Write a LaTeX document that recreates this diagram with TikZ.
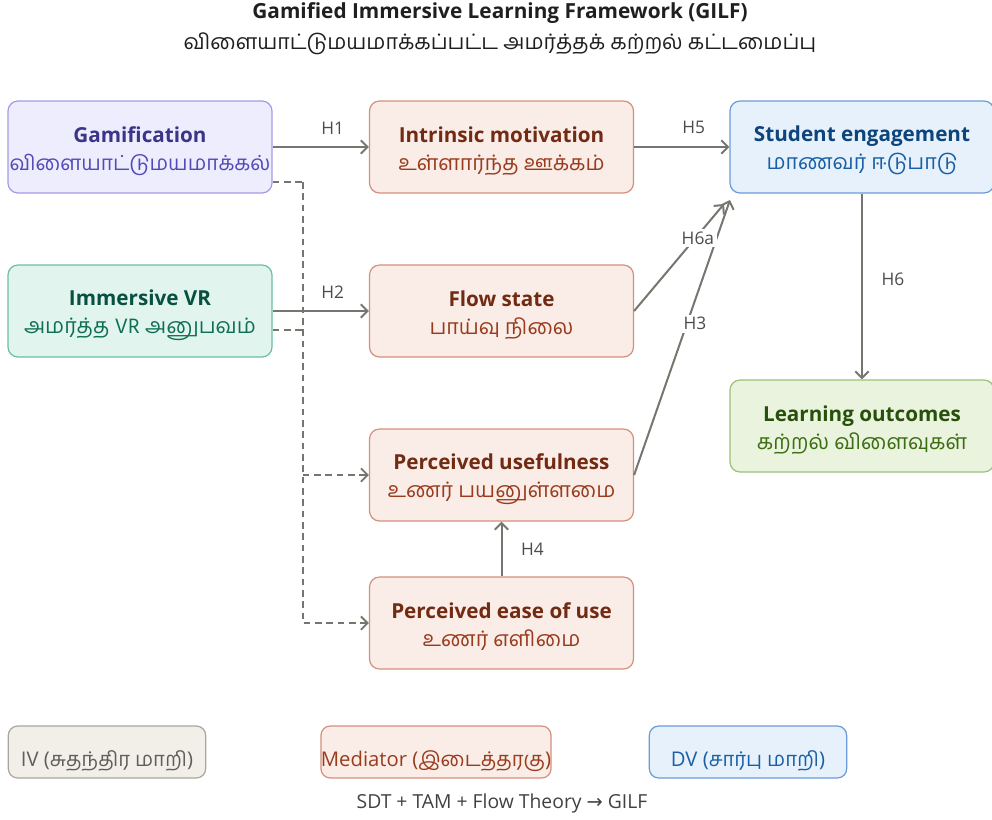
\documentclass[tikz,border=0pt]{standalone}
\usepackage{fontspec}
\usepackage{xcolor}
\usetikzlibrary{positioning, arrows.meta, calc}
\setmainfont{Open Sans}
\newfontfamily\tamilfont[Script=Tamil]{Hind Madurai}
\newfontfamily\symfont{DejaVu Sans}

% box palette: fill / border / heading / second line
\definecolor{ivfill}{HTML}{EEEDFE}\definecolor{ivline}{HTML}{A39BE6}
\definecolor{ivhead}{HTML}{3C3489}\definecolor{ivsub}{HTML}{534AB7}
\definecolor{vrfill}{HTML}{E1F5EE}\definecolor{vrline}{HTML}{6BBF9F}
\definecolor{vrhead}{HTML}{085041}\definecolor{vrsub}{HTML}{0F6E56}
\definecolor{medfill}{HTML}{FAECE7}\definecolor{medline}{HTML}{D4907A}
\definecolor{medhead}{HTML}{712B13}\definecolor{medsub}{HTML}{993C1D}
\definecolor{dvfill}{HTML}{E6F1FB}\definecolor{dvline}{HTML}{6A9BD8}
\definecolor{dvhead}{HTML}{0C447C}\definecolor{dvsub}{HTML}{185FA5}
\definecolor{outfill}{HTML}{EAF3DE}\definecolor{outline}{HTML}{9DBF7A}
\definecolor{outhead}{HTML}{27500A}\definecolor{outsub}{HTML}{3B6D11}
\definecolor{keyfill}{HTML}{F1EFE8}\definecolor{keyline}{HTML}{A8A69E}
\definecolor{keytext}{HTML}{5F5E5A}
\definecolor{wire}{HTML}{76756F}
\definecolor{ink}{HTML}{1F1F1F}

% heading on top, Tamil line below
\newcommand{\duo}[4][16]{{\fontsize{15.5}{19}\selectfont\bfseries\rule{0pt}{17.5pt}#2}\\[4pt]%
  {\fontsize{#1}{19}\selectfont\tamilfont\color{#3}#4}}
% key text sits a little low in its box
\newcommand{\keytxt}[1]{\raisebox{-11pt}[0pt][0pt]{#1}}

\begin{document}
\begin{tikzpicture}[x=0.75pt, y=-0.75pt,
  every node/.style={font=\fontsize{13}{17}\selectfont, align=center},
  box/.style={rounded corners=7.5pt, line width=0.9pt,
              minimum width=198pt, minimum height=69pt, inner sep=0pt},
  ivbox/.style={box, draw=ivline, fill=ivfill, text=ivhead},
  vrbox/.style={box, draw=vrline, fill=vrfill, text=vrhead},
  medbox/.style={box, draw=medline, fill=medfill, text=medhead},
  dvbox/.style={box, draw=dvline, fill=dvfill, text=dvhead},
  outbox/.style={box, draw=outline, fill=outfill, text=outhead},
  keybox/.style={rounded corners=7pt, line width=0.9pt, inner sep=0pt,
                 minimum height=39pt, font=\fontsize{15.2}{18}\selectfont},
  hyp/.style={draw=wire, line width=1.5pt,
              -{Straight Barb[length=5pt, width=10pt]}},
  dsh/.style={draw=wire, line width=1.4pt, dash pattern=on 5pt off 3.5pt},
  lbl/.style={font=\fontsize{13}{15}\selectfont, text=ink!80, fill=white,
              inner sep=2pt}]
\useasboundingbox (0,0) rectangle (992,819);

% title
\node[font=\fontsize{15.6}{18}\selectfont\bfseries, text=ink] (title) at (500,13)
  {Gamified Immersive Learning Framework (GILF)};
\node[font=\fontsize{16}{19}\selectfont\tamilfont, text=ink] (subtitle) at (500,44)
  {விளையாட்டுமயமாக்கப்பட்ட அமர்த்தக் கற்றல் கட்டமைப்பு};

% independent variables
\node[ivbox] (gam) at (140,147) {\duo[15.6]{Gamification}{ivsub}{விளையாட்டுமயமாக்கல்}};
\node[vrbox] (vr) at (140,311) {\duo{Immersive VR}{vrsub}{அமர்த்த VR அனுபவம்}};

% mediators
\node[medbox] (im) at (501.5,147) {\duo{Intrinsic motivation}{medsub}{உள்ளார்ந்த ஊக்கம்}};
\node[medbox] (fs) at (501.5,311) {\duo{Flow state}{medsub}{பாய்வு நிலை}};
\node[medbox] (pu) at (501.5,475) {\duo{Perceived usefulness}{medsub}{உணர் பயனுள்ளமை}};
\node[medbox] (peou) at (501.5,623) {\duo{Perceived ease of use}{medsub}{உணர் எளிமை}};

% outcomes
\node[dvbox] (se) at (862,147) {\duo{Student engagement}{dvsub}{மாணவர் ஈடுபாடு}};
\node[outbox] (lo) at (862,426) {\duo{Learning outcomes}{outsub}{கற்றல் விளைவுகள்}};

% hypotheses
\draw[hyp] (gam.east) -- node[lbl, above=7pt, xshift=9pt] {H1} (im.west);
\draw[hyp] (vr.east) -- node[lbl, above=7pt, xshift=9pt] {H2} (fs.west);
\draw[hyp] (im.east) -- node[lbl, above=7pt, xshift=9pt] {H5} (se.west);
\draw[hyp] (se.south) -- node[lbl, pos=0.46, right=12pt] {H6} (lo.north);
\draw[hyp] (peou.north) -- node[lbl, right=12pt] {H4} (pu.south);
\coordinate (tipa) at (724,204);
\coordinate (tipb) at (730,200);
\draw[hyp] (pu.east) -- node[lbl, pos=0.55, xshift=6pt] {H3} (tipb);
\draw[hyp] (fs.east) -- node[lbl, pos=0.68, xshift=2pt] {H6a} (tipa);

% indirect links (dashed)
\draw[dsh] ([shift={(0,35)}]gam.east) -- ++(30,0) coordinate (bus);
\draw[dsh, -{Straight Barb[length=5pt, width=10pt]}] (bus) |- (peou.west);
\draw[dsh] ([shift={(0,19)}]vr.east) -- ++(30,0);
\draw[dsh, -{Straight Barb[length=5pt, width=10pt]}] (bus |- pu.west) -- (pu.west);

% key
\node[keybox, draw=keyline, fill=keyfill, text=keytext, minimum width=148pt] (keyiv) at (107,752)
  {\keytxt{IV ({\tamilfont சுதந்திர மாறி})}};
\node[keybox, draw=medline, fill=medfill, text=medsub, minimum width=172pt] (keymed) at (436,752)
  {\keytxt{Mediator ({\tamilfont இடைத்தரகு})}};
\node[keybox, draw=dvline, fill=dvfill, text=dvsub, minimum width=148pt] (keydv) at (748,752)
  {\keytxt{DV ({\tamilfont சார்பு மாறி})}};
\node[font=\fontsize{14.5}{17}\selectfont, text=ink!85] (theory) at (502,803)
  {SDT + TAM + Flow Theory {\symfont →} GILF};
\end{tikzpicture}
\end{document}
